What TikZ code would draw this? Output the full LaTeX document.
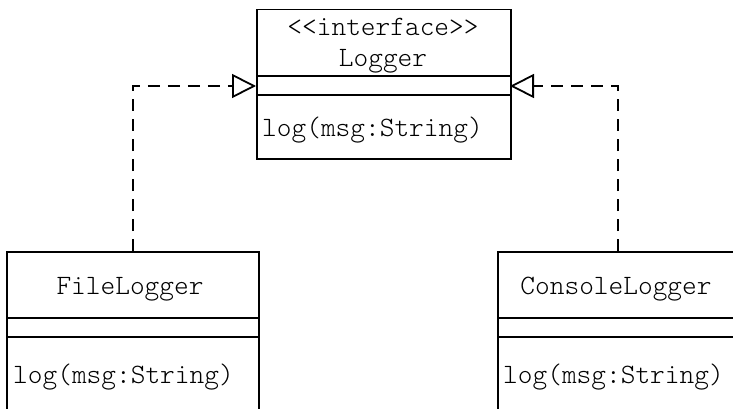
\documentclass[tikz,border=0pt]{standalone}
\usetikzlibrary{arrows.meta}
\begin{document}
\begin{tikzpicture}[x=1pt,y=-1pt,
  classbox/.style={draw,line width=1.5pt,rectangle,anchor=north west,inner sep=0pt,minimum width=#1},
  lbl/.style={font=\fontsize{28}{32}\ttfamily\fontseries{l}\selectfont,inner sep=0pt,anchor=base},
  meth/.style={font=\fontsize{28}{32}\ttfamily\fontseries{l}\selectfont,inner sep=0pt,anchor=base west},
  realize/.style={line width=1.8pt,dash pattern=on 12pt off 8pt,-{Triangle[open,length=24pt,width=24pt,line width=1.8pt]}}]
\useasboundingbox (0,0) rectangle (733,409);
\clip (0,0) rectangle (733,409);
% Logger
\node[classbox=254pt,minimum height=149pt] (logger) at (256,9) {};
\draw[line width=1.5pt] (256,76) -- (510,76) (256,95) -- (510,95);
\node[lbl] (lstereo) at (383,36) {<<interface>>};
\node[lbl] (lname) at (383,67) {Logger};
\node[meth] (lmeth) at (262,136) {log(msg:String)};
% FileLogger
\node[classbox=252pt,minimum height=200pt] (file) at (6,251) {};
\draw[line width=1.5pt] (6,318) -- (258,318) (6,337) -- (258,337);
\node[lbl] (fname) at (130,294) {FileLogger};
\node[meth] (fmeth) at (13,383) {log(msg:String)};
% ConsoleLogger
\node[classbox=240pt,minimum height=200pt] (console) at (497,251) {};
\draw[line width=1.5pt] (497,318) -- (740,318) (497,337) -- (740,337);
\node[lbl] (cname) at (616,294) {ConsoleLogger};
\node[meth] (cmeth) at (503,383) {log(msg:String)};
% connectors
\coordinate (lin) at (256,86);
\coordinate (rin) at (510,86);
\draw[realize] (file.north) |- (lin);
\draw[realize] (console.north) |- (rin);
\end{tikzpicture}
\end{document}
